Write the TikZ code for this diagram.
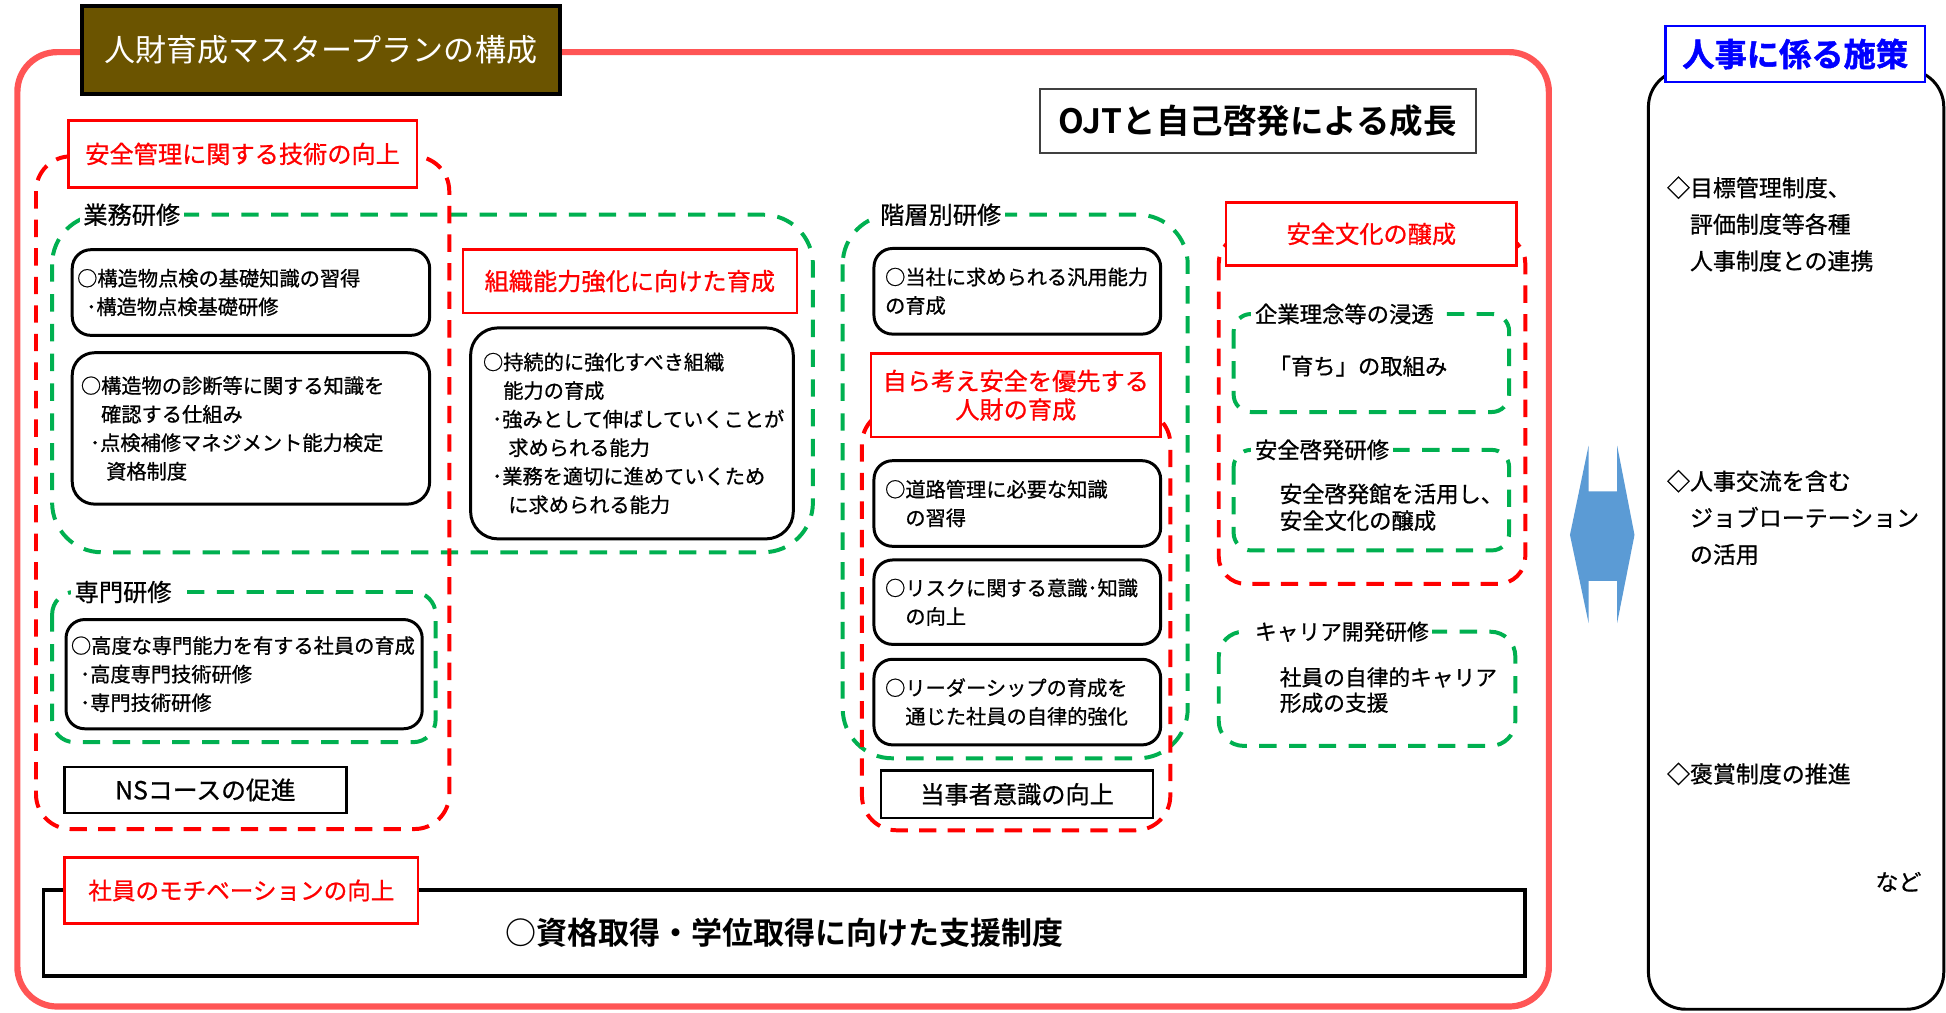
\documentclass[tikz,border=0pt]{standalone}
\usepackage{fontspec}
\setmainfont{Noto Sans CJK JP}[FakeBold=0.8]
\newfontfamily\jpplain{Noto Sans CJK JP}
\newfontfamily\jpbold{Noto Sans CJK JP Bold}
\newfontfamily\jpheavy{Noto Sans CJK JP Bold}[FakeBold=1.5]
\newcommand{\fs}[2]{\fontsize{#1pt}{#2pt}\selectfont}
\newcommand{\bul}{\hspace*{0.45em}･}
\definecolor{framered}{RGB}{255,85,85}
\definecolor{dred}{RGB}{255,0,0}
\definecolor{dgreen}{RGB}{0,176,80}
\definecolor{olive}{RGB}{107,84,0}
\definecolor{arrowblue}{RGB}{91,155,213}
\definecolor{pblue}{RGB}{0,0,255}
\tikzset{
  rbox/.style={draw=black, line width=2.4pt, fill=white, align=left, inner ysep=0pt, anchor=north west, font=\fs{16.3}{23}},
  redlabel/.style={draw=dred, line width=2pt, fill=white, text=dred, align=center, inner sep=0pt, font=\fs{19.5}{23}},
  blackbox/.style={draw=black, line width=2pt, fill=white, inner sep=0pt},
  reddash/.style={draw=dred, line width=3.2pt, dash pattern=on 14pt off 9pt},
  greendash/.style={draw=dgreen, line width=3.2pt, dash pattern=on 14pt off 10pt},
  glabel/.style={fill=white, inner xsep=3pt, inner ysep=1pt, anchor=west, font=\fs{19.5}{23}},
  plaintext/.style={align=left, inner sep=0pt, anchor=west},
}
\begin{document}
\begin{tikzpicture}[x=1pt,y=-1pt]
\useasboundingbox (0,0) rectangle (1568,816);
\fill[white] (0,0) rectangle (1568,816);
% outer frame
\draw[framered, line width=5pt, rounded corners=32pt] (14,42) rectangle (1248,811);
% title
\node[draw=black, line width=3pt, fill=olive, text=white, minimum width=385pt, minimum height=71pt, inner sep=0pt, font=\jpplain\fs{25}{30}] (title) at (258.5,40.5) {人財育成マスタープランの構成};
% OJT
\node[draw=black!75, line width=1.5pt, fill=white, minimum width=351pt, minimum height=51pt, inner sep=0pt, font=\jpbold\fs{27}{30}] (ojt) at (1013.5,97.5) {OJTと自己啓発による成長};
% dashed groups
\draw[greendash, rounded corners=40pt] (42,173) rectangle (655,445);
\draw[greendash, rounded corners=18pt] (42,477) rectangle (351,598);
\draw[reddash, rounded corners=28pt] (29,126) rectangle (362,668);
\draw[greendash, rounded corners=40pt] (679,173) rectangle (957,611);
\draw[reddash, rounded corners=28pt] (694.5,330) rectangle (943,669);
\draw[greendash, rounded corners=14pt] (994,253) rectangle (1216,332);
\draw[greendash, rounded corners=14pt] (994,362.5) rectangle (1216,443.5);
\draw[reddash, rounded corners=22pt] (982,190) rectangle (1229,470.5);
\draw[greendash, rounded corners=20pt] (982,509) rectangle (1221,601);
% group labels
\node[glabel] (lgyomu) at (64,173) {業務研修};
\node[glabel] (lsenmon) at (57,477) {専門研修};
\node[glabel] (lkaiso) at (706,173) {階層別研修};
\node[glabel, font=\fs{18}{22}] (lkigyo) at (1008,253) {企業理念等の浸透};
\node[glabel, font=\fs{18}{22}] (lanzen) at (1008,362.5) {安全啓発研修};
\node[glabel, font=\fs{17.5}{22}] (lcareer) at (1008,509) {キャリア開発研修};
% red labels
\node[redlabel, minimum width=281pt, minimum height=54pt] (l1) at (195.5,124) {安全管理に関する技術の向上};
\node[redlabel, minimum width=269pt, minimum height=51pt] (l2) at (507.5,226.5) {組織能力強化に向けた育成};
\node[redlabel, minimum width=233pt, minimum height=67pt] (l3) at (818.5,318.5) {自ら考え安全を優先する\\人財の育成};
\node[redlabel, minimum width=234pt, minimum height=51pt] (l4) at (1105,188.5) {安全文化の醸成};
% rounded boxes
\node[rbox, rounded corners=15pt, inner xsep=4pt, text width=280pt, minimum height=69pt] (b1) at (57,200) {○構造物点検の基礎知識の習得\\\bul 構造物点検基礎研修};
\node[rbox, rounded corners=18pt, inner xsep=7pt, text width=274pt, minimum height=122pt] (b2) at (57,283) {○構造物の診断等に関する知識を\\\hspace*{1em}確認する仕組み\\\bul 点検補修マネジメント能力検定\\\hspace*{1.25em}資格制度};
\node[rbox, rounded corners=22pt, inner xsep=10pt, text width=240pt, minimum height=170pt] (b3) at (378,263) {○持続的に強化すべき組織\\\hspace*{1em}能力の育成\\\bul 強みとして伸ばしていくことが\\\hspace*{1.25em}求められる能力\\\bul 業務を適切に進めていくため\\\hspace*{1.25em}に求められる能力};
\node[rbox, rounded corners=15pt, inner xsep=4pt, text width=279pt, minimum height=88pt] (b4) at (52,498) {○高度な専門能力を有する社員の育成\\\bul 高度専門技術研修\\\bul 専門技術研修};
\node[rbox, rounded corners=15pt, inner xsep=9pt, text width=213pt, minimum height=69pt] (b5) at (703,199) {○当社に求められる汎用能力\\の育成};
\node[rbox, rounded corners=15pt, inner xsep=9pt, text width=213pt, minimum height=69pt] (b6) at (703,370) {○道路管理に必要な知識\\\hspace*{1em}の習得};
\node[rbox, rounded corners=15pt, inner xsep=9pt, text width=213pt, minimum height=68pt] (b7) at (703,450) {○リスクに関する意識･知識\\\hspace*{1em}の向上};
\node[rbox, rounded corners=15pt, inner xsep=9pt, text width=213pt, minimum height=69pt] (b8) at (703,530) {○リーダーシップの育成を\\\hspace*{1em}通じた社員の自律的強化};
% black boxes
\node[blackbox, minimum width=227pt, minimum height=37pt, font=\fs{20}{24}] (ns) at (165.5,636.5) {NSコースの促進};
\node[blackbox, minimum width=219pt, minimum height=38pt, font=\fs{19.5}{24}] (tojisha) at (819.5,640) {当事者意識の向上};
\node[blackbox, line width=3pt, minimum width=1194pt, minimum height=69.5pt, font=\jpbold\fs{25}{30}] (shikaku) at (632,751.75) {○資格取得・学位取得に向けた支援制度};
\node[redlabel, minimum width=285pt, minimum height=53pt, font=\fs{19}{23}] (l5) at (194.5,717.5) {社員のモチベーションの向上};
% texts in safety culture group
\node[plaintext, font=\fs{18}{22}] (sodachi) at (1022,295) {「育ち」の取組み};
\node[plaintext, font=\fs{18}{21.5}] (keihatsu) at (1031,408.75) {安全啓発館を活用し、\\安全文化の醸成};
\node[plaintext, font=\fs{17.5}{20.5}] (careertxt) at (1031,556) {社員の自律的キャリア\\形成の支援};
% double arrow
\fill[arrowblue] (1265,431) -- (1280,359) -- (1280,396) -- (1303,396) -- (1303,359) -- (1317,431) -- (1303,502) -- (1303,468) -- (1280,468) -- (1280,502) -- cycle;
% right panel
\node[draw=black, line width=2.4pt, rounded corners=30pt, minimum width=238pt, minimum height=757pt, inner sep=0pt, anchor=north west] (hrbox) at (1327,55) {};
\node[draw=pblue, line width=2pt, fill=white, text=pblue, minimum width=209pt, minimum height=45pt, inner sep=0pt, font=\jpheavy\fs{26}{30}] (hrtitle) at (1446.5,43.5) {人事に係る施策};
\node[plaintext, font=\fs{18.5}{29.5}] (hr1) at (1343,180.5) {◇目標管理制度、\\\hspace*{1em}評価制度等各種\\\hspace*{1em}人事制度との連携};
\node[plaintext, font=\fs{18.5}{29.5}] (hr2) at (1343,417) {◇人事交流を含む\\\hspace*{1em}ジョブローテーション\\\hspace*{1em}の活用};
\node[plaintext, font=\fs{18.5}{29.5}] (hr3) at (1343,623.6) {◇褒賞制度の推進};
\node[plaintext, font=\fs{18.5}{29.5}] (hr4) at (1511,710.6) {など};
\end{tikzpicture}
\end{document}
